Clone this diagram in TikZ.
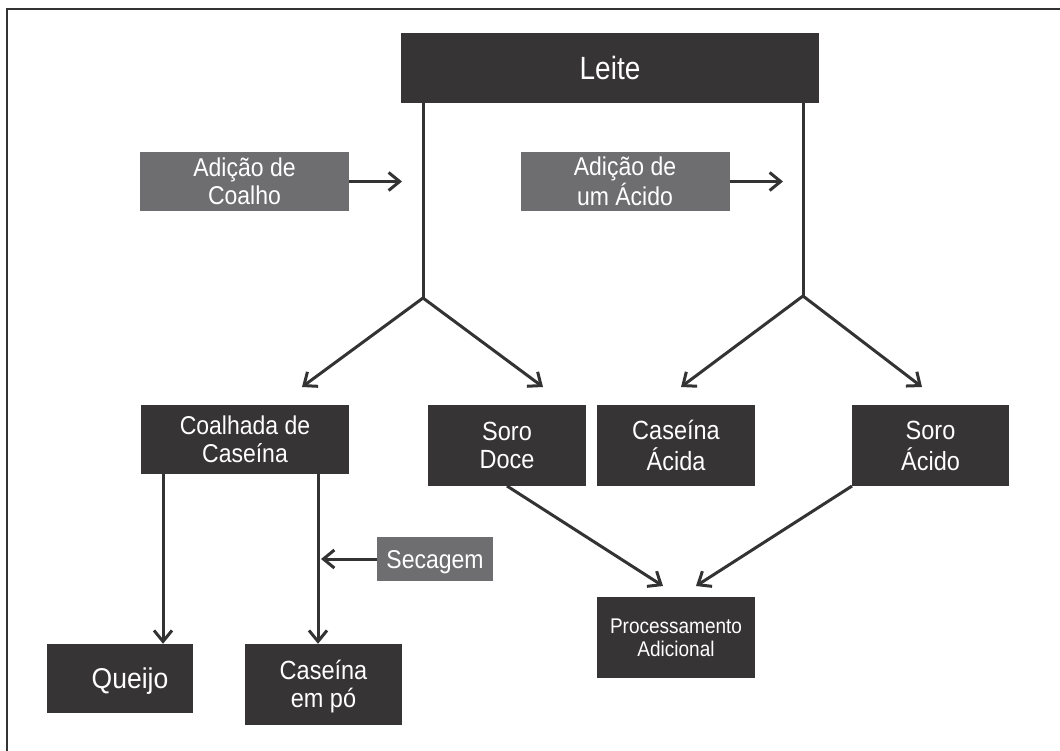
\documentclass[tikz,border=0pt]{standalone}
\usepackage{fontspec}
\usepackage{graphicx}
\setmainfont{Liberation Sans}
\usetikzlibrary{arrows.meta}
\definecolor{boxdark}{HTML}{363435}
\definecolor{boxgray}{HTML}{6E6E70}
\definecolor{linecol}{HTML}{333333}
\newcommand{\vtxt}[3][1.12]{\raisebox{-#2}[\height][\depth]{\scalebox{1}[#1]{\begin{tabular}{@{}c@{}}#3\end{tabular}}}}
\tikzset{
  dbox/.style={fill=boxdark, draw=none, text=white, align=center, inner sep=0pt, font=\fontsize{23.5}{24.7}\selectfont},
  gbox/.style={fill=boxgray, draw=none, text=white, align=center, inner sep=0pt, font=\fontsize{23}{24.2}\selectfont},
  conn/.style={draw=linecol, line width=3pt},
  arr/.style={conn, -{Straight Barb[length=11pt,width=18pt,line width=3pt]}},
}
\begin{document}
\begin{tikzpicture}[x=1pt,y=-1pt]
\useasboundingbox (0,0) rectangle (1060,751);
\draw[linecol, line width=1.5pt] (1060,9) -- (7,9) -- (7,751);

% nodes
\node[dbox, minimum width=418, minimum height=70, font=\fontsize{28}{30}\selectfont] (leite) at (610,68) {\vtxt[1.15]{4.4pt}{Leite}};
\node[gbox, minimum width=209, minimum height=59] (adcoal) at (244.5,181.5) {\vtxt{3.6pt}{Adição de\\Coalho}};
\node[gbox, minimum width=209, minimum height=59] (adacid) at (625,181.5) {\vtxt{3.6pt}{Adição de\\um Ácido}};
\node[dbox, minimum width=208, minimum height=69, font=\fontsize{23}{24.7}\selectfont] (coalhada) at (245,439.5) {\vtxt{3.6pt}{Coalhada de\\Caseína}};
\node[dbox, minimum width=158, minimum height=81] (sorodoce) at (507,445.5) {\vtxt{3.6pt}{Soro\\Doce}};
\node[dbox, minimum width=158, minimum height=81] (casacida) at (676,445.5) {\vtxt{3.6pt}{Caseína\\Ácida}};
\node[dbox, minimum width=157, minimum height=81] (soroacido) at (930.5,445.5) {\vtxt{3.6pt}{Soro\\Ácido}};
\node[dbox, minimum width=146, minimum height=69, font=\fontsize{26.5}{30}\selectfont] (queijo) at (120,678.5) {\hspace*{20pt}\vtxt[1.08]{3.8pt}{Queijo}};
\node[dbox, minimum width=157, minimum height=81] (caspo) at (323.5,684.5) {\vtxt{3.6pt}{Caseína\\em pó}};
\node[gbox, minimum width=116, minimum height=44] (secagem) at (435,559) {\vtxt{3.8pt}{Secagem}};
\node[dbox, minimum width=158, minimum height=81, font=\fontsize{19}{21}\selectfont] (proc) at (676,637.5) {\vtxt{2.9pt}{Processamento\\Adicional}};

% coordinates
\coordinate (bl) at (423,298);
\coordinate (br) at (803,296);
\coordinate (tcoal) at (402,181.5);
\coordinate (tacid) at (783,181.5);
\coordinate (t1) at (302,387);
\coordinate (t2) at (543,387);
\coordinate (t3) at (681,387);
\coordinate (t4) at (922,387);
\coordinate (q1) at (163,0);
\coordinate (q2) at (318,0);
\coordinate (tsec) at (321,559);
\coordinate (sd) at (507,486);
\coordinate (sa) at (852,486);
\coordinate (p1) at (663,586);
\coordinate (p2) at (696,586);

% connectors
\draw[conn] (leite.south -| bl) -- (bl);
\draw[conn] (leite.south -| br) -- (br);
\draw[arr] (adcoal.east) -- (tcoal);
\draw[arr] (adacid.east) -- (tacid);
\draw[arr] (bl) -- (t1);
\draw[arr] (bl) -- (t2);
\draw[arr] (br) -- (t3);
\draw[arr] (br) -- (t4);
\draw[arr] (coalhada.south -| q1) -- (queijo.north -| q1);
\draw[arr] (coalhada.south -| q2) -- (caspo.north -| q2);
\draw[arr] (secagem.west) -- (tsec);
\draw[arr] (sd) -- (p1);
\draw[arr] (sa) -- (p2);
\end{tikzpicture}
\end{document}
